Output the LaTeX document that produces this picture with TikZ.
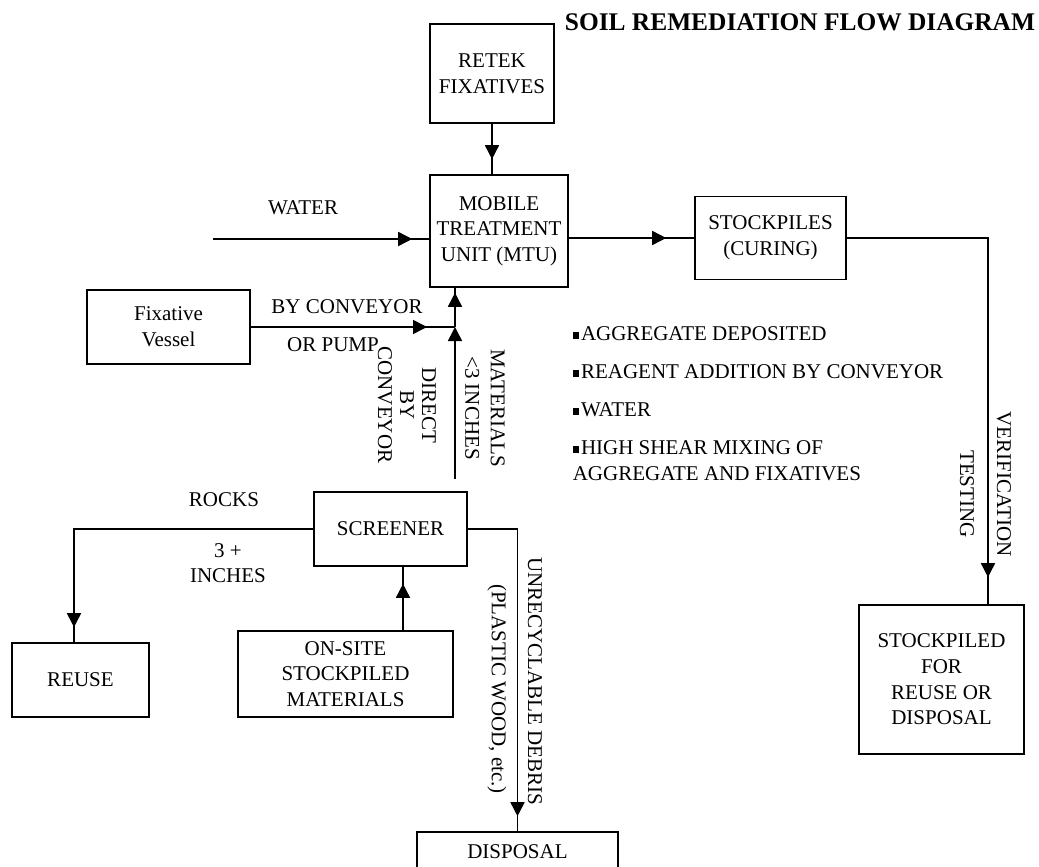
\documentclass[tikz,border=0pt]{standalone}
\usepackage{fontspec}
\setmainfont{Liberation Serif}
\usetikzlibrary{arrows.meta, positioning, decorations.markings}
\newcommand{\sqbul}{\rule[0.25ex]{3.3pt}{3.3pt}\hspace{0.8pt}}

\begin{document}
\begin{tikzpicture}[x=0.5pt, y=-0.5pt, line width=0.8pt,
  every node/.style={font=\fontsize{10.5}{12.8}\selectfont},
  box/.style={draw, inner sep=0pt, align=center},
  flowarrow/.style={postaction={decorate}, decoration={markings,
      mark=at position -#1 with {\arrow{Triangle[length=7pt, width=7pt]}}}},
  flowarrow/.default=7.5pt,
  tip/.style={-{Triangle[length=7pt, width=7pt]}}]
  \useasboundingbox (0,0) rectangle (1039,867);
  \clip (0,0) rectangle (1039,867);

  % Title
  \node[font=\fontsize{12.7}{14}\selectfont\bfseries] (title) at (800,22)
    {SOIL REMEDIATION FLOW DIAGRAM};

  % Process boxes
  \node[box, minimum width=62pt, minimum height=49.5pt] (retek) at (492,73.5)
    {RETEK\\FIXATIVES};
  \node[box, minimum width=69pt, minimum height=56pt] (mtu) at (499,231)
    {MOBILE\\TREATMENT\\UNIT (MTU)};
  \node[box, minimum width=75.5pt, minimum height=41.5pt] (stock) at (770.5,238)
    {STOCKPILES\\(CURING)};
  \node[box, minimum width=81.5pt, minimum height=37pt] (vessel) at (168.5,327)
    {Fixative\\Vessel};
  \node[box, minimum width=76.5pt, minimum height=37pt] (screener) at (390.5,529)
    {SCREENER};
  \node[box, minimum width=68.5pt, minimum height=37pt] (reuse) at (80.5,680)
    {REUSE};
  \node[box, minimum width=107.5pt, minimum height=43pt] (onsite) at (345.5,674)
    {ON-SITE\\STOCKPILED\\MATERIALS};
  \node[box, minimum width=82.5pt, minimum height=74.5pt] (final) at (941.5,679.5)
    {STOCKPILED\\FOR\\REUSE OR\\DISPOSAL};
  \node[box, minimum width=100.5pt, minimum height=20pt] (disposal) at (517.5,852)
    {DISPOSAL};

  % Free ends and bends
  \coordinate (waterin) at (213,239);
  \coordinate (junc) at (455,327);
  \coordinate (screenout) at (455,479);
  \coordinate (rockx) at (74,529);
  \coordinate (feedx) at (403,600);
  \coordinate (testx) at (988,238);

  % Flows
  \draw[flowarrow] (retek.south) -- (retek.south |- mtu.north);
  \draw[flowarrow=8.5pt] (waterin) -- (waterin -| mtu.west);
  \draw[flowarrow=14pt] (mtu.east |- stock.west) -- (stock.west);
  \draw[flowarrow=13.5pt] (stock.east) -- (testx) -- (testx |- final.north);
  \draw[flowarrow=14pt] (vessel.east) -- (junc);
  \draw[tip] (screenout) -- (junc);
  \draw[flowarrow=2.5pt] (junc) -- (junc |- mtu.south);
  \draw[flowarrow=7.5pt] (screener.west) -- (rockx) -- (rockx |- reuse.north);
  \draw[flowarrow=8.5pt] (feedx |- onsite.north) -- (feedx |- screener.south);
  \draw[flowarrow=7.5pt] (screener.east) -- (screener.east -| disposal.north)
    -- (disposal.north);

  % Flow labels
  \node (waterlbl) at (303,208) {WATER};
  \node (convlbl) at (347,307) {BY CONVEYOR};
  \node (pumplbl) at (333,345) {OR PUMP};
  \node[rotate=-90, align=center, font=\fontsize{10.5}{11}\selectfont] (directlbl)
    at (407,405) {DIRECT\\BY\\CONVEYOR};
  \node[rotate=-90, align=center] (matlbl) at (485,408) {MATERIALS\\<3 INCHES};
  \node (rockslbl) at (224,500) {ROCKS};
  \node[align=center] (incheslbl) at (228,563) {3 +\\INCHES};
  \node[rotate=-90] (debrislbl) at (535,681) {UNRECYCLABLE DEBRIS};
  \node[rotate=-90] (plasticlbl) at (497,689) {(PLASTIC WOOD, etc.)};
  \node[rotate=-90] (verlbl) at (1004,484) {VERIFICATION};
  \node[rotate=-90] (testlbl) at (967,494) {TESTING};

  % MTU notes
  \node[align=left, anchor=west, inner sep=0pt] (notes) at (572,404)
    {\sqbul AGGREGATE DEPOSITED\\[6.2pt]
     \sqbul REAGENT ADDITION BY CONVEYOR\\[6.2pt]
     \sqbul WATER\\[6.2pt]
     \sqbul HIGH SHEAR MIXING OF\\
     AGGREGATE AND FIXATIVES};
\end{tikzpicture}
\end{document}
